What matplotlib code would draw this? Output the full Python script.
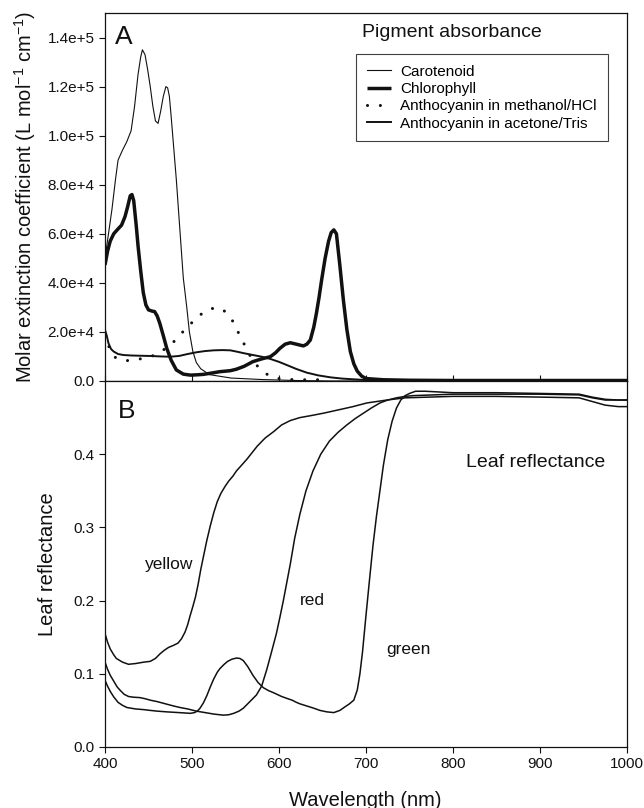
import matplotlib
matplotlib.use('Agg')
import matplotlib.pyplot as plt

plt.rcParams['font.family'] = ['Liberation Sans', 'DejaVu Sans']
plt.rcParams['mathtext.fontset'] = 'custom'
plt.rcParams['mathtext.rm'] = 'Liberation Sans'
plt.rcParams['mathtext.default'] = 'regular'

# ---------------- Panel A: pigment absorbance ----------------
car_wl = [400, 404, 408, 412, 415, 420, 425, 430, 434, 438, 441, 443, 446, 449, 452, 455, 458, 461,
          464, 467, 470, 472, 474, 476, 479, 482, 486, 490, 494, 497, 501, 505, 510, 520, 545, 580,
          620, 660, 700, 800, 900, 1000]
car_val = [50000, 60000, 70000, 82000, 90000, 94000, 97500, 102000, 112000, 125000, 132000, 135000,
           133000, 127000, 120000, 112000, 106000, 105000, 110000, 116000, 120000, 119500, 116000,
           108000, 95000, 82000, 62000, 42000, 30000, 20000, 12000, 7500, 5000, 2600, 1200, 600,
           200, 0, 0, 0, 0, 0]

chl_wl = [400, 403, 406, 410, 415, 419, 423, 426, 429, 431, 433, 436, 438, 441, 444, 447, 450, 454,
          457, 460, 463, 467, 471, 476, 482, 490, 498, 505, 513, 522, 532, 544, 551, 560, 570, 580,
          590, 596, 601, 607, 613, 620, 628, 632, 636, 640, 643, 646, 649, 653, 657, 660, 663, 666,
          670, 674, 678, 682, 686, 690, 695, 700, 720, 750, 800, 900, 1000]
chl_val = [47300, 53000, 57000, 60000, 62000, 63500, 67000, 71000, 75500, 76000, 73500, 63000, 55000,
           45000, 36000, 31000, 29000, 28500, 28300, 26500, 23500, 18500, 13300, 8500, 4500, 2800,
           2400, 2500, 2700, 3200, 3800, 4200, 4800, 6000, 7900, 9000, 9900, 11500, 13300, 15000,
           15600, 15000, 14300, 15000, 16700, 22000, 27600, 34000, 41200, 50000, 57000, 60500, 61600,
           60000, 47000, 33000, 21000, 12000, 7000, 4000, 2000, 1000, 500, 300, 200, 200, 200]

ant_meoh_wl = [400, 403, 406, 410, 417, 425, 434, 445, 455, 464, 470, 476, 482, 487, 493, 498, 503,
               508, 514, 521, 528, 535, 540, 546, 550, 554, 558, 562, 566, 570, 575, 580, 586, 592,
               600, 609, 620, 635, 645]
ant_meoh_val = [19000, 15500, 12500, 10000, 8600, 8300, 8600, 9300, 10300, 12000, 13300, 15000, 17000,
                19200, 21200, 23100, 25000, 26500, 28200, 29400, 29800, 29300, 27500, 24900, 22200,
                19200, 16400, 13600, 10800, 8400, 6200, 4400, 2800, 1600, 1000, 700, 500, 500, 500]

ant_ace_wl = [400, 402, 404, 407, 410, 415, 421, 430, 440, 452, 465, 475, 485, 495, 505, 515, 525, 535,
              544, 551, 560, 570, 580, 590, 600, 609, 620, 632, 645, 659, 672, 685, 700, 720, 750, 800,
              1000]
ant_ace_val = [20800, 18500, 15400, 13000, 12000, 11000, 10600, 10400, 10300, 10200, 10000, 9900, 10200,
               11000, 11700, 12200, 12500, 12600, 12500, 12000, 11300, 10600, 9900, 9000, 7800, 6500,
               4900, 3400, 2300, 1500, 1000, 700, 400, 200, 100, 50, 0]

legend_labels = ['Carotenoid', 'Chlorophyll', 'Anthocyanin in methanol/HCl', 'Anthocyanin in acetone/Tris']
a_yticks = [0, 20000, 40000, 60000, 80000, 100000, 120000, 140000]
a_yticklabels = ['0.0', '2.0e+4', '4.0e+4', '6.0e+4', '8.0e+4', '1.0e+5', '1.2e+5', '1.4e+5']

# ---------------- Panel B: leaf reflectance ----------------
yel_wl = [400, 403, 406, 410, 413, 420, 427, 435, 445, 452, 458, 463, 468, 473, 479, 484, 488, 492, 495,
          498, 501, 504, 507, 510, 514, 517, 521, 525, 529, 533, 538, 542, 547, 551, 557, 563, 569, 575,
          584, 594, 603, 613, 624, 638, 651, 670, 685, 701, 724, 745, 800, 850, 900, 945, 960, 975,
          990, 1000]
yel_val = [0.155, 0.143, 0.134, 0.126, 0.121, 0.116, 0.113, 0.114, 0.116, 0.117, 0.121, 0.127, 0.132,
           0.136, 0.139, 0.142, 0.148, 0.157, 0.167, 0.180, 0.192, 0.205, 0.222, 0.242, 0.265, 0.282,
           0.302, 0.320, 0.335, 0.346, 0.356, 0.363, 0.370, 0.377, 0.385, 0.393, 0.402, 0.411, 0.422,
           0.431, 0.440, 0.446, 0.450, 0.453, 0.456, 0.461, 0.465, 0.470, 0.474, 0.477, 0.479, 0.479,
           0.478, 0.477, 0.472, 0.467, 0.465, 0.465]

red_wl = [400, 403, 406, 410, 414, 417, 422, 427, 433, 440, 446, 452, 460, 471, 479, 486, 495, 505, 515,
          525, 536, 542, 548, 554, 559, 564, 569, 574, 580, 586, 591, 597, 601, 605, 609, 613, 618, 624,
          631, 639, 648, 658, 668, 678, 688, 697, 706, 716, 725, 735, 745, 754, 800, 850, 900, 945,
          960, 975, 990, 1000]
red_val = [0.116, 0.106, 0.098, 0.090, 0.082, 0.078, 0.072, 0.069, 0.068, 0.0675, 0.066, 0.064, 0.062,
           0.0585, 0.056, 0.054, 0.052, 0.049, 0.047, 0.045, 0.0435, 0.044, 0.046, 0.049, 0.053, 0.059,
           0.065, 0.071, 0.083, 0.106, 0.128, 0.155, 0.177, 0.200, 0.225, 0.250, 0.285, 0.318, 0.350,
           0.377, 0.400, 0.418, 0.430, 0.440, 0.449, 0.456, 0.463, 0.470, 0.474, 0.477, 0.479, 0.480,
           0.482, 0.482, 0.482, 0.481, 0.477, 0.474, 0.474, 0.474]

grn_wl = [400, 403, 406, 410, 415, 420, 425, 435, 445, 452, 460, 471, 485, 498, 503, 506, 509, 513, 517,
          521, 525, 529, 532, 537, 541, 546, 551, 555, 559, 564, 570, 576, 582, 588, 594, 603, 610, 615,
          620, 624, 632, 640, 647, 655, 663, 670, 676, 681, 686, 690, 693, 696, 700, 704, 708, 712, 716,
          720, 725, 730, 735, 740, 745, 750, 757, 768, 800, 850, 900, 945, 960, 975, 990, 1000]
grn_val = [0.091, 0.083, 0.076, 0.0685, 0.061, 0.057, 0.054, 0.052, 0.051, 0.050, 0.049, 0.048, 0.047,
           0.046, 0.047, 0.049, 0.0526, 0.060, 0.070, 0.082, 0.093, 0.102, 0.107, 0.113, 0.117, 0.120,
           0.1215, 0.121, 0.118, 0.110, 0.098, 0.088, 0.081, 0.077, 0.074, 0.069, 0.066, 0.064, 0.061,
           0.059, 0.056, 0.053, 0.050, 0.048, 0.047, 0.050, 0.055, 0.059, 0.064, 0.078, 0.100, 0.130,
           0.180, 0.228, 0.275, 0.315, 0.350, 0.385, 0.420, 0.445, 0.463, 0.474, 0.480, 0.483, 0.486,
           0.486, 0.484, 0.484, 0.483, 0.482, 0.478, 0.475, 0.474, 0.474]

xticks = [400, 500, 600, 700, 800, 900, 1000]
b_yticks = [0.0, 0.1, 0.2, 0.3, 0.4]
b_yticklabels = ['0.0', '0.1', '0.2', '0.3', '0.4']

# ---------------- Figure ----------------
W, H = 644, 808
fig = plt.figure(figsize=(W / 100, H / 100), dpi=100)
L, R = 105, 627
axA = fig.add_axes([L / W, 1 - 381 / H, (R - L) / W, (381 - 13) / H])
axB = fig.add_axes([L / W, 1 - 747 / H, (R - L) / W, (747 - 381) / H])

ink = '#111111'
axA.plot(car_wl, car_val, color=ink, lw=0.8, label=legend_labels[0])
axA.plot(chl_wl, chl_val, color=ink, lw=2.5, label=legend_labels[1], solid_capstyle='butt')
axA.plot(ant_meoh_wl, ant_meoh_val, color=ink, lw=2.2, linestyle=(0, (0.01, 4.2)),
         dash_capstyle='round', label=legend_labels[2])
axA.plot(ant_ace_wl, ant_ace_val, color=ink, lw=1.4, label=legend_labels[3])

axA.set_xlim(400, 1000)
axA.set_ylim(0, 150000)
axA.set_yticks(a_yticks)
axA.set_yticklabels(a_yticklabels)
axA.set_xticks(xticks)
axA.tick_params(axis='x', direction='in', length=4, width=0.8, labelbottom=False, colors=ink)
axA.tick_params(axis='y', direction='out', length=4, width=0.8, labelsize=11, colors=ink)
axA.set_ylabel(r'Molar extinction coefficient (L mol$^{-1}$ cm$^{-1}$)', fontsize=14.5, color=ink)
axA.yaxis.label.set_verticalalignment('center')
axA.yaxis.set_label_coords((25 - L) / (R - L), 0.5)

axA.text(411.5, 140400, 'A', fontsize=19, ha='left', va='center', color=ink)
axA.text(695.4, 142000, 'Pigment absorbance', fontsize=14, ha='left', va='center', color=ink)

leg = axA.legend(loc='upper left', bbox_to_anchor=(0.481, 0.889), frameon=True, fancybox=False,
                 edgecolor=ink, fontsize=11, handlelength=1.6, handletextpad=0.6,
                 labelspacing=0.22, borderpad=0.7, borderaxespad=0)
leg.get_frame().set_linewidth(0.8)

axB.plot(yel_wl, yel_val, color=ink, lw=1.1)
axB.plot(red_wl, red_val, color=ink, lw=1.1)
axB.plot(grn_wl, grn_val, color=ink, lw=1.1)
axB.set_xlim(400, 1000)
axB.set_ylim(0, 0.5)
axB.set_xticks(xticks)
axB.set_xticklabels([str(v) for v in xticks])
axB.set_yticks(b_yticks)
axB.set_yticklabels(b_yticklabels)
axB.tick_params(axis='both', direction='out', length=4, width=0.8, labelsize=11, colors=ink)
axB.set_ylabel('Leaf reflectance', fontsize=14.5, color=ink)
axB.yaxis.label.set_verticalalignment('center')
axB.yaxis.set_label_coords((47.5 - L) / (R - L), 0.5)
axB.set_xlabel('Wavelength (nm)', fontsize=14.5, color=ink)
axB.xaxis.label.set_verticalalignment('center')
axB.xaxis.set_label_coords(0.498, (747 - 800) / (747 - 381))

axB.text(415, 0.4585, 'B', fontsize=19, ha='left', va='center', color=ink)
axB.text(815, 0.388, 'Leaf reflectance', fontsize=14, ha='left', va='center', color=ink)
axB.text(446, 0.249, 'yellow', fontsize=12.5, ha='left', va='center', color=ink)
axB.text(624, 0.200, 'red', fontsize=12.5, ha='left', va='center', color=ink)
axB.text(723, 0.133, 'green', fontsize=12.5, ha='left', va='center', color=ink)

for ax in (axA, axB):
    for s in ax.spines.values():
        s.set_linewidth(0.9)
        s.set_color(ink)

fig.savefig('out.png', dpi=100)
